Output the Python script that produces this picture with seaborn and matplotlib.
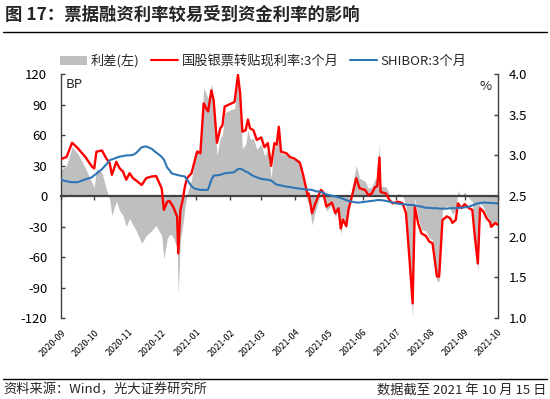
import pandas as pd
import matplotlib
matplotlib.use('Agg')
import matplotlib.pyplot as plt
from matplotlib.patches import Patch
from matplotlib.lines import Line2D
import seaborn as sns

# Data, day offsets from 2020-09-15
start = pd.Timestamp('2020-09-15')
days = [0, 5, 10, 15, 22, 28, 30, 32, 37, 41, 44, 46, 50, 53, 56, 59, 62, 65, 68, 73,
        77, 82, 86, 89, 91, 93, 96, 98, 100, 102, 105, 106, 108, 110, 112, 114, 118, 121, 123, 126,
        129, 132, 133, 136, 138, 141, 144, 146, 148, 156, 157, 160, 162, 164, 167, 169, 171, 174, 177, 181,
        184, 187, 190, 193, 195, 197, 199, 204, 207, 211, 216, 219, 223, 224, 227, 230, 235, 237, 240, 245,
        248, 251, 253, 255, 258, 260, 263, 267, 270, 275, 278, 281, 284, 286, 288, 289, 294, 297, 300, 305,
        309, 312, 315, 318, 320, 323, 326, 330, 333, 336, 338, 340, 342, 345, 349, 352, 354, 357, 359, 362,
        365, 369, 372, 374, 377, 379, 382, 385, 388, 389, 391, 393, 395]

# 国股银票转贴现利率:3个月 (%)
discount_3m = [2.955, 2.98, 3.155, 3.09, 2.98, 2.86, 2.84, 3.045, 3.06, 2.96,
               2.905, 2.76, 2.92, 2.84, 2.80, 2.70, 2.78, 2.72, 2.69, 2.635,
               2.72, 2.74, 2.745, 2.655, 2.595, 2.33, 2.43, 2.44, 2.40, 2.35,
               2.245, 1.795, 2.33, 2.45, 2.615, 2.72, 2.78, 2.94, 3.045, 3.025,
               3.64, 3.56, 3.54, 3.80, 3.68, 3.155, 3.33, 3.37, 3.60, 3.65,
               3.66, 3.99, 3.76, 3.29, 3.31, 3.44, 3.33, 3.31, 3.19, 3.22,
               3.10, 3.15, 2.87, 3.15, 3.13, 3.35, 3.045, 3.025, 2.98, 2.96,
               2.91, 2.76, 2.51, 2.53, 2.29, 2.41, 2.575, 2.55, 2.37, 2.42,
               2.29, 2.35, 2.10, 2.21, 2.13, 2.33, 2.49, 2.72, 2.595, 2.575,
               2.51, 2.53, 2.61, 2.62, 2.975, 2.55, 2.53, 2.45, 2.41, 2.43,
               2.41, 2.29, 1.755, 1.18, 2.37, 2.165, 2.04, 2.01, 1.94, 1.92,
               1.71, 1.51, 1.51, 2.205, 2.25, 2.225, 2.17, 2.205, 2.41, 2.35,
               2.40, 2.35, 2.33, 2.04, 1.67, 2.35, 2.31, 2.225, 2.18, 2.12,
               2.145, 2.17, 2.145]

# SHIBOR:3个月 (%)
shibor_3m = [2.70, 2.68, 2.67, 2.67, 2.705, 2.73, 2.755, 2.775, 2.83, 2.89,
             2.94, 2.95, 2.97, 2.985, 2.99, 3.00, 3.00, 3.005, 3.03, 3.10,
             3.11, 3.08, 3.035, 3.005, 2.98, 2.95, 2.85, 2.82, 2.78, 2.77,
             2.76, 2.755, 2.75, 2.745, 2.74, 2.70, 2.62, 2.59, 2.585, 2.575,
             2.575, 2.575, 2.58, 2.70, 2.75, 2.755, 2.76, 2.77, 2.78, 2.79,
             2.80, 2.83, 2.835, 2.825, 2.80, 2.79, 2.77, 2.745, 2.73, 2.71,
             2.705, 2.70, 2.69, 2.66, 2.64, 2.635, 2.63, 2.615, 2.61, 2.60,
             2.59, 2.585, 2.58, 2.58, 2.575, 2.56, 2.55, 2.54, 2.52, 2.505,
             2.495, 2.485, 2.475, 2.465, 2.45, 2.44, 2.43, 2.42, 2.42, 2.43,
             2.435, 2.44, 2.445, 2.45, 2.45, 2.45, 2.44, 2.43, 2.42, 2.405,
             2.40, 2.395, 2.39, 2.39, 2.385, 2.375, 2.37, 2.355, 2.355, 2.35,
             2.35, 2.35, 2.345, 2.345, 2.345, 2.35, 2.35, 2.35, 2.355, 2.355,
             2.36, 2.37, 2.385, 2.395, 2.41, 2.413, 2.42, 2.418, 2.415, 2.415,
             2.413, 2.41, 2.41]

# 利差(左), BP
spread_bp = [25.5, 30, 48.5, 42, 27.5, 13, 8.5, 27, 23, 7,
             -3.5, -19, -5, -14.5, -19, -30, -22, -28.5, -34, -46.5,
             -39, -34, -29, -35, -38.5, -62, -42, -38, -38, -42,
             -51.5, -96, -42, -29.5, -12.5, 2, 16, 35, 46, 45,
             106.5, 98.5, 96, 110, 93, 40, 57, 60, 82, 86,
             86, 116, 92.5, 46.5, 51, 65, 56, 56.5, 46, 51,
             39.5, 45, 18, 49, 49, 71.5, 41.5, 41, 37, 36,
             32, 17.5, -7, -5, -28.5, -15, 2.5, 1, -15, -8.5,
             -20.5, -13.5, -37.5, -25.5, -32, -11, 6, 30, 17.5, 14.5,
             7.5, 9, 16.5, 17, 52.5, 10, 9, 2, -1, 2.5,
             1, -10.5, -63.5, -121, -1.5, -21, -33, -34.5, -41.5, -43,
             -64, -84, -83.5, -14, -9.5, -12.5, -18, -14.5, 5.5, -0.5,
             4, -2, -5.5, -35.5, -74, -6.5, -11, -19.5, -23.5, -29.5,
             -27, -24, -26.5]

month_labels = ['2020-09', '2020-10', '2020-11', '2020-12', '2021-01', '2021-02', '2021-03',
                '2021-04', '2021-05', '2021-06', '2021-07', '2021-08', '2021-09', '2021-10']

df = pd.DataFrame({
    'date': start + pd.to_timedelta(days, unit='D'),
    'discount': discount_3m,
    'shibor': shibor_3m,
    'spread': spread_bp,
})
month_ticks = [start + pd.DateOffset(months=i) for i in range(len(month_labels))]

sns.set_theme(style='white')
plt.rcParams['font.family'] = ['Noto Sans CJK SC', 'DejaVu Sans']
plt.rcParams['axes.unicode_minus'] = False

RED = '#FF0000'
BLUE = '#2E75B6'
GRAY = '#BFBFBF'
AXC = '#404040'

fig = plt.figure(figsize=(5.5, 3.99), dpi=100)
ax = fig.add_axes([0.111, 0.203, 0.794, 0.6115])

# spread area on the left axis
ax.fill_between(df['date'], 0, df['spread'], color=GRAY, lw=0, zorder=1)
ax.set_ylim(-120, 120)
ax.set_yticks(range(-120, 121, 30))
ax.set_xlim(month_ticks[0], month_ticks[-1])
ax.set_xticks(month_ticks)
ax.set_xlabel('')
ax.set_ylabel('')

ax2 = ax.twinx()
sns.lineplot(data=df, x='date', y='discount', ax=ax2, color=RED, lw=1.7)
sns.lineplot(data=df, x='date', y='shibor', ax=ax2, color=BLUE, lw=1.5)
ax2.set_ylim(1.0, 4.0)
ax2.set_yticks([1.0, 1.5, 2.0, 2.5, 3.0, 3.5, 4.0])
ax2.set_yticklabels([f'{v:.1f}' for v in [1.0, 1.5, 2.0, 2.5, 3.0, 3.5, 4.0]])
ax2.set_xlim(month_ticks[0], month_ticks[-1])
ax2.set_xlabel('')
ax2.set_ylabel('')

# spines
ax.spines['top'].set_visible(False)
ax.spines['right'].set_visible(False)
ax.spines['bottom'].set_position(('data', 0))
ax.spines['bottom'].set_color(AXC)
ax.spines['bottom'].set_linewidth(1.6)
ax.spines['left'].set_color(AXC)
ax.spines['left'].set_linewidth(1.0)
for s in ['top', 'bottom', 'left']:
    ax2.spines[s].set_visible(False)
ax2.spines['right'].set_color(AXC)
ax2.spines['right'].set_linewidth(1.0)

ax.tick_params(axis='x', bottom=True, direction='out', length=3, width=1, color=AXC, labelbottom=False)
ax.tick_params(axis='y', left=True, direction='in', length=3, width=1, color=AXC,
               labelsize=9.5, labelcolor='black', pad=10)
ax2.tick_params(axis='x', bottom=False, labelbottom=False)
ax2.tick_params(axis='y', right=True, direction='in', length=3, width=1, color=AXC,
                labelsize=9.5, labelcolor='black', pad=8)

# month labels at the bottom of the plot
for d, lab in zip(month_ticks, month_labels):
    ax.text(d, -0.04, lab, transform=ax.get_xaxis_transform(), rotation=45,
            ha='right', va='top', rotation_mode='anchor', fontsize=6.5, color='black')

ax.text(0.01, 0.985, 'BP', transform=ax.transAxes, ha='left', va='top', fontsize=9.5)
ax2.text(0.985, 0.975, '%', transform=ax2.transAxes, ha='right', va='top', fontsize=9.5)

# legend
handles = [Patch(facecolor=GRAY, edgecolor='none'),
           Line2D([], [], color=RED, lw=1.5),
           Line2D([], [], color=BLUE, lw=1.5)]
labels = ['利差(左)', '国股银票转贴现利率:3个月', 'SHIBOR:3个月']
fig.legend(handles, labels, loc='center', bbox_to_anchor=(0.479, 0.847), ncol=3,
           frameon=False, fontsize=9.5, handlelength=2.0, handletextpad=0.3,
           columnspacing=0.9)

# title, rules, footer
fig.text(0.009, 0.962, '图 17：票据融资利率较易受到资金利率的影响', fontsize=12.5,
         fontweight='bold', ha='left', va='center')
fig.add_artist(Line2D([0.005, 0.995], [0.92, 0.92], transform=fig.transFigure, color='black', lw=1))
fig.add_artist(Line2D([0.005, 0.995], [0.05, 0.05], transform=fig.transFigure, color='black', lw=1))
fig.text(0.006, 0.022, '资料来源：Wind，光大证券研究所', fontsize=9.5, ha='left', va='center')
fig.text(0.994, 0.022, '数据截至 2021 年 10 月 15 日', fontsize=9.5, ha='right', va='center')

fig.savefig('out.png', dpi=100)
